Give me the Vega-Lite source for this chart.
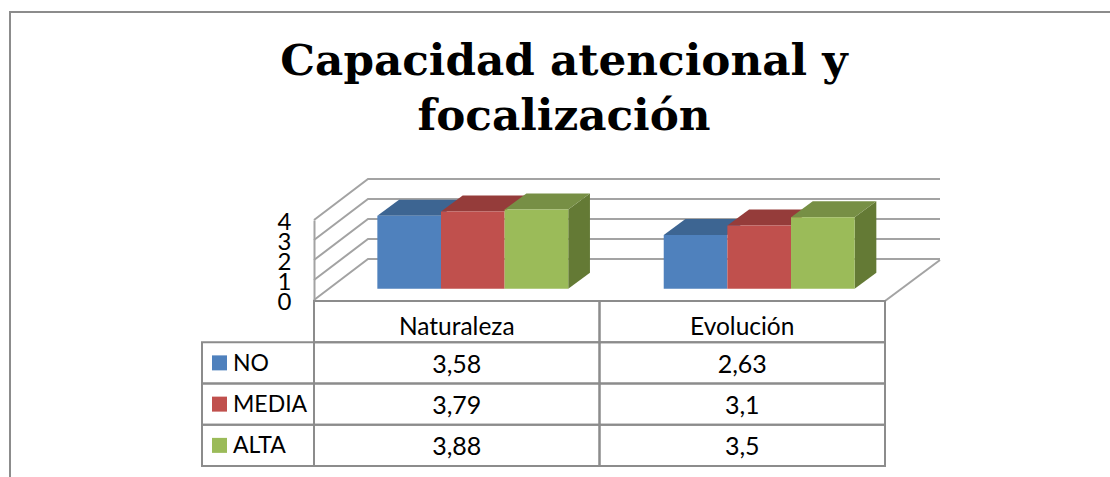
{
"$schema":"https://vega.github.io/schema/vega-lite/v6.json",
"width":1110,"height":477,"autosize":"none","padding":0,"background":"white",
"config":{"view":{"stroke":null},"font":"Lato"},
"title":{"text":["Capacidad atencional y","focalización"],"font":"DejaVu Serif","fontSize":43.7,"fontWeight":"bold","color":"#000000","anchor":"middle","frame":"group","dx":9,"offset":-174,"lineHeight":55,"baseline":"alphabetic"},
"datasets":{
"datos":[
{"categoria":"Naturaleza","serie":"NO","valor":3.58,"texto":"3,58"},
{"categoria":"Naturaleza","serie":"MEDIA","valor":3.79,"texto":"3,79"},
{"categoria":"Naturaleza","serie":"ALTA","valor":3.88,"texto":"3,88"},
{"categoria":"Evolución","serie":"NO","valor":2.63,"texto":"2,63"},
{"categoria":"Evolución","serie":"MEDIA","valor":3.1,"texto":"3,1"},
{"categoria":"Evolución","serie":"ALTA","valor":3.5,"texto":"3,5"}],
"niveles":[{"nivel":0},{"nivel":1},{"nivel":2},{"nivel":3},{"nivel":4}],
"categorias":[{"categoria":"Naturaleza"},{"categoria":"Evolución"}],
"series":[{"serie":"NO"},{"serie":"MEDIA"},{"serie":"ALTA"}]},
"resolve":{"scale":{"x":"independent","y":"independent","color":"independent","shape":"independent","xOffset":"independent"},"axis":{"x":"independent","y":"independent"}},
"layer":[
{"data":{"values":[{"marco":1}]},
 "mark":{"type":"rect","fill":null,"stroke":"#8c8c8c","strokeWidth":2},
 "encoding":{"x":{"datum":0,"type":"quantitative","axis":null,"scale":{"domain":[0,1],"range":[10,1300]}},"x2":{"datum":1},
 "y":{"datum":0,"type":"quantitative","axis":null,"scale":{"domain":[0,1],"range":[12,600]}},"y2":{"datum":1}}},
{"data":{"name":"niveles"},
 "mark":{"type":"point","shape":"M0,0L54,-41H626","size":4,"filled":false,"fill":null,"stroke":"#a3a3a3","strokeWidth":2,"opacity":1},
 "encoding":{"x":{"datum":0,"type":"quantitative","axis":null,"scale":{"domain":[0,1],"range":[314,885]}},
 "y":{"field":"nivel","type":"quantitative","scale":{"domain":[0,4],"range":[300,220]},
  "axis":{"title":null,"values":[0,1,2,3,4],"orient":"left","offset":-314,"grid":false,"ticks":false,"domain":true,"domainColor":"#a3a3a3","domainWidth":2,"labelFont":"Lato","labelFontSize":24,"labelColor":"#000000","labelPadding":23,"labelBaseline":"middle","labelOverlap":false,"labelOffset":2,"labelBound":false,"labelFlush":false,"format":"d"}}}},
{"data":{"values":[{"nivel":0}]},
 "mark":{"type":"point","shape":"M0,0L55,-41","size":4,"filled":false,"fill":null,"stroke":"#a3a3a3","strokeWidth":2,"opacity":1},
 "encoding":{"x":{"datum":1,"type":"quantitative","axis":null,"scale":{"domain":[0,1],"range":[314,885]}},
 "y":{"field":"nivel","type":"quantitative","axis":null,"scale":{"domain":[0,4],"range":[301,221]}}}},
{"data":{"name":"datos"},"transform":[{"filter":{"field":"serie","equal":"ALTA"}}],
 "mark":{"type":"point","size":4,"filled":true,"fill":"#647a35","stroke":null,"opacity":1},
 "encoding":{"x":{"field":"categoria","type":"nominal","sort":["Naturaleza","Evolución"],"axis":null,"scale":{"type":"band","domain":["Naturaleza","Evolución"],"range":[329.6,902.4],"paddingInner":0.3333,"paddingOuter":0.1667}},
 "xOffset":{"field":"serie","type":"nominal","scale":{"domain":["NO","MEDIA","ALTA"]}},
 "y":{"field":"valor","type":"quantitative","axis":null,"scale":{"domain":[0,5],"range":[288.7,186.7]}},
 "shape":{"field":"categoria","type":"nominal","legend":null,"scale":{"domain":["Naturaleza","Evolución"],"range":["M31.8,0L53.5,-16V63.2L31.8,79.2Z","M31.8,0L53.5,-16V55.4L31.8,71.4Z"]}}}},
{"data":{"name":"datos"},
 "mark":{"type":"point","shape":"M-31.8,0L31.8,0L53.5,-16L-10.1,-16Z","size":4,"filled":true,"stroke":null,"opacity":1},
 "encoding":{"x":{"field":"categoria","type":"nominal","axis":null,"scale":{"type":"band","domain":["Naturaleza","Evolución"],"range":[329.6,902.4],"paddingInner":0.3333,"paddingOuter":0.1667}},
 "xOffset":{"field":"serie","type":"nominal","scale":{"domain":["NO","MEDIA","ALTA"]}},
 "y":{"field":"valor","type":"quantitative","axis":null,"scale":{"domain":[0,5],"range":[288.7,186.7]}},
 "color":{"field":"serie","type":"nominal","legend":null,"scale":{"domain":["NO","MEDIA","ALTA"],"range":["#3d6592","#953c3a","#778f45"]}}}},
{"data":{"name":"datos"},
 "mark":{"type":"bar","stroke":null},
 "encoding":{"x":{"field":"categoria","type":"nominal","axis":null,"scale":{"type":"band","domain":["Naturaleza","Evolución"],"range":[329.6,902.4],"paddingInner":0.3333,"paddingOuter":0.1667}},
 "xOffset":{"field":"serie","type":"nominal","scale":{"domain":["NO","MEDIA","ALTA"]}},
 "y":{"field":"valor","type":"quantitative","axis":null,"scale":{"domain":[0,5],"range":[288.7,186.7]}},
 "color":{"field":"serie","type":"nominal","legend":null,"scale":{"domain":["NO","MEDIA","ALTA"],"range":["#4f81bd","#c0504d","#9bbb59"]}}}},
{"data":{"name":"datos"},
 "mark":{"type":"rect","fill":null,"stroke":"#8c8c8c","strokeWidth":2},
 "encoding":{"x":{"field":"categoria","type":"nominal","axis":null,"scale":{"type":"band","domain":["Naturaleza","Evolución"],"range":[314,885],"padding":0}},
 "y":{"field":"serie","type":"nominal","axis":null,"scale":{"type":"band","domain":["Categoría","NO","MEDIA","ALTA"],"range":[301,466],"padding":0}}}},
{"data":{"name":"categorias"},
 "mark":{"type":"rect","fill":null,"stroke":"#8c8c8c","strokeWidth":2},
 "encoding":{"x":{"field":"categoria","type":"nominal","axis":null,"scale":{"type":"band","domain":["Naturaleza","Evolución"],"range":[314,885],"padding":0}},
 "y":{"datum":"Categoría","type":"nominal","axis":null,"scale":{"type":"band","domain":["Categoría","NO","MEDIA","ALTA"],"range":[301,466],"padding":0}}}},
{"data":{"name":"series"},
 "mark":{"type":"rect","fill":null,"stroke":"#8c8c8c","strokeWidth":2},
 "encoding":{"x":{"datum":"leyenda","type":"nominal","axis":null,"scale":{"type":"band","domain":["leyenda"],"range":[202,314],"padding":0}},
 "y":{"field":"serie","type":"nominal","axis":null,"scale":{"type":"band","domain":["Categoría","NO","MEDIA","ALTA"],"range":[301,466],"padding":0}}}},
{"data":{"name":"series"},
 "mark":{"type":"point","shape":"square","size":225,"filled":true,"stroke":null,"opacity":1},
 "encoding":{"x":{"datum":0,"type":"quantitative","axis":null,"scale":{"domain":[0,1],"range":[219.5,300]}},
 "y":{"field":"serie","type":"nominal","axis":null,"scale":{"type":"band","domain":["Categoría","NO","MEDIA","ALTA"],"range":[301,466],"padding":0}},
 "color":{"field":"serie","type":"nominal","legend":null,"scale":{"domain":["NO","MEDIA","ALTA"],"range":["#4f81bd","#c0504d","#9bbb59"]}}}},
{"data":{"name":"series"},
 "mark":{"type":"text","align":"left","baseline":"middle","dy":1,"font":"Lato","fontSize":23,"color":"#000000"},
 "encoding":{"x":{"datum":0,"type":"quantitative","axis":null,"scale":{"domain":[0,1],"range":[233,300]}},
 "y":{"field":"serie","type":"nominal","axis":null,"scale":{"type":"band","domain":["Categoría","NO","MEDIA","ALTA"],"range":[301,466],"padding":0}},
 "text":{"field":"serie","type":"nominal"}}},
{"data":{"name":"datos"},
 "mark":{"type":"text","align":"center","baseline":"middle","dy":2,"font":"Lato","fontSize":25,"color":"#000000"},
 "encoding":{"x":{"field":"categoria","type":"nominal","axis":null,"scale":{"type":"band","domain":["Naturaleza","Evolución"],"range":[314,885],"padding":0}},
 "y":{"field":"serie","type":"nominal","axis":null,"scale":{"type":"band","domain":["Categoría","NO","MEDIA","ALTA"],"range":[301,466],"padding":0}},
 "text":{"field":"texto","type":"nominal"}}},
{"data":{"name":"categorias"},
 "mark":{"type":"text","align":"center","baseline":"middle","dy":6,"font":"Lato","fontSize":24.5,"color":"#000000"},
 "encoding":{"x":{"field":"categoria","type":"nominal","axis":null,"scale":{"type":"band","domain":["Naturaleza","Evolución"],"range":[314,885],"padding":0}},
 "y":{"datum":"Categoría","type":"nominal","axis":null,"scale":{"type":"band","domain":["Categoría","NO","MEDIA","ALTA"],"range":[301,466],"padding":0}},
 "text":{"field":"categoria","type":"nominal"}}}
]}
